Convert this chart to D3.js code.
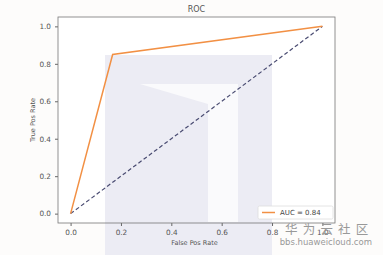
<!DOCTYPE html>
<html>
<head>
<meta charset="utf-8">
<script src="https://cdn.jsdelivr.net/npm/d3@7"></script>
<style>
  body { margin: 0; background: #fdfcfb; }
  svg { display: block; }
</style>
</head>
<body>
<div id="viz"></div>
<script>
var fpr = [0, 0.167, 1],
    tpr = [0, 0.85, 1],
    chance = [0, 1],
    xTicks = [0, 0.2, 0.4, 0.6, 0.8, 1.0],
    yTicks = [0, 0.2, 0.4, 0.6, 0.8, 1.0],
    aucLabel = "AUC = 0.84";

var W = 383, H = 255,
    margin = { top: 17, right: 48, bottom: 32, left: 58 },
    width = W - margin.left - margin.right,
    height = H - margin.top - margin.bottom;

var svg = d3.select('#viz').append('svg')
  .attr('width', W)
  .attr('height', H)
  .style('font-family', 'DejaVu Sans, sans-serif');

svg.append('rect').attr('width', W).attr('height', H).attr('fill', '#fdfcfb');

var xScale = d3.scaleLinear().domain([-0.05, 1.05]).range([0, width]);
var yScale = d3.scaleLinear().domain([-0.05, 1.05]).range([height, 0]);

// axes background
svg.append('rect')
  .attr('x', margin.left).attr('y', margin.top)
  .attr('width', width).attr('height', height)
  .attr('fill', '#ffffff');

// faded watermark, sits under the marks
var wm = svg.append('g');
wm.append('rect').attr('x', 105).attr('y', 55).attr('width', 167).attr('height', 200)
  .attr('fill', '#ececf4');
wm.append('path')
  .attr('d', 'M140,84 L238,84 L238,222 L208,222 L208,104 Z')
  .attr('fill', '#fafafc');

var g = svg.append('g')
  .attr('transform', 'translate(' + margin.left + ',' + margin.top + ')');

// axes
var xAxis = d3.axisBottom(xScale).tickValues(xTicks).tickSize(3).tickPadding(4)
  .tickFormat(d3.format('.1f'));
var yAxis = d3.axisLeft(yScale).tickValues(yTicks).tickSize(3).tickPadding(4)
  .tickFormat(d3.format('.1f'));

var xg = g.append('g').attr('transform', 'translate(0,' + height + ')').call(xAxis);
var yg = g.append('g').call(yAxis);
[xg, yg].forEach(function(a) {
  a.select('.domain').remove();
  a.selectAll('line').attr('stroke', '#666');
  a.selectAll('text').attr('fill', '#555').attr('font-size', 7.3)
    .style('font-family', 'DejaVu Sans, sans-serif');
});

g.append('rect')
  .attr('width', width).attr('height', height)
  .attr('fill', 'none').attr('stroke', '#777').attr('stroke-width', 0.8);

// lines
var line = d3.line()
  .x(function(d) { return xScale(d[0]); })
  .y(function(d) { return yScale(d[1]); });

g.append('path')
  .datum(chance.map(function(v) { return [v, v]; }))
  .attr('d', line)
  .attr('fill', 'none')
  .attr('stroke', '#4a4c72')
  .attr('stroke-width', 1.2)
  .attr('stroke-dasharray', '4,2.5');

g.append('path')
  .datum(fpr.map(function(v, i) { return [v, tpr[i]]; }))
  .attr('d', line)
  .attr('fill', 'none')
  .attr('stroke', '#f29044')
  .attr('stroke-width', 1.5);

// legend
var lg = g.append('g').attr('transform', 'translate(' + (width - 77) + ',' + (height - 17) + ')');
lg.append('rect').attr('width', 75).attr('height', 13).attr('rx', 1.5)
  .attr('fill', '#fff').attr('stroke', '#ddd').attr('stroke-width', 0.8);
lg.append('line').attr('x1', 4).attr('x2', 17).attr('y1', 6.5).attr('y2', 6.5)
  .attr('stroke', '#f29044').attr('stroke-width', 1.5);
lg.append('text').attr('x', 22).attr('y', 9).attr('font-size', 7).attr('fill', '#444')
  .text(aucLabel);

// titles
svg.append('text').attr('x', margin.left + width / 2).attr('y', 12)
  .attr('text-anchor', 'middle').attr('font-size', 8).attr('fill', '#555').text('ROC');
svg.append('text').attr('x', margin.left + width / 2 - 2).attr('y', 245)
  .attr('text-anchor', 'middle').attr('font-size', 6.5).attr('fill', '#555').text('False Pos Rate');
svg.append('text')
  .attr('transform', 'translate(35,' + (margin.top + height / 2) + ') rotate(-90)')
  .attr('text-anchor', 'middle').attr('font-size', 6.5).attr('fill', '#555').text('True Pos Rate');

// site mark
svg.append('text').attr('x', 285).attr('y', 234).attr('font-size', 12.5)
  .attr('fill', '#999').attr('letter-spacing', 1.2).style('font-family', 'Noto Sans CJK SC')
  .text('华 为 云 社 区');
svg.append('text').attr('x', 372).attr('y', 245).attr('text-anchor', 'end')
  .attr('font-size', 8.5).attr('fill', '#999').text('bbs.huaweicloud.com');
</script>
</body>
</html>
